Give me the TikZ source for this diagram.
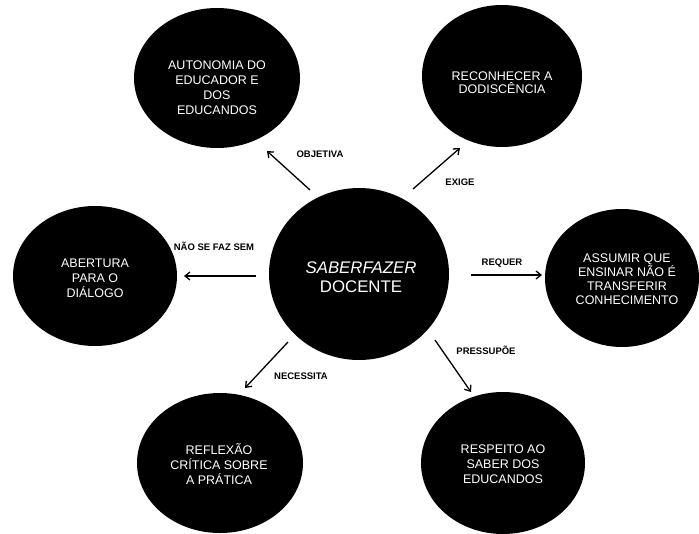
\documentclass[tikz,border=0pt]{standalone}
\usepackage{fontspec}
\setmainfont{Liberation Sans}
\usetikzlibrary{arrows.meta}
\begin{document}
\begin{tikzpicture}[x=1pt,y=-1pt,
  blobtext/.style={text=white, align=center, inner sep=0pt},
  rel/.style={font=\bfseries\fontsize{9.5}{10}\selectfont, inner sep=0pt},
  link/.style={-{Straight Barb[length=5pt,width=8pt]}, line width=1.3pt}]
\useasboundingbox (0,0) rectangle (699,533);
\fill[black] (359,274) ellipse [x radius=90, y radius=86];
\node[blobtext, font=\fontsize{16.8}{19}\selectfont] (ctext) at (361,277) {\textit{SABERFAZER}\\DOCENTE};
\fill[black] (217,78) ellipse [x radius=83, y radius=70];
\node[blobtext, font=\fontsize{12.5}{15}\selectfont] (n1) at (217,88) {AUTONOMIA DO\\EDUCADOR E\\DOS\\EDUCANDOS};
\fill[black] (502,76) ellipse [x radius=80, y radius=71];
\node[blobtext, font=\fontsize{12.5}{13}\selectfont] (n2) at (502,83) {RECONHECER A\\DODISCÊNCIA};
\fill[black] (95,276) ellipse [x radius=82, y radius=70];
\node[blobtext, font=\fontsize{12.5}{15}\selectfont] (n3) at (95,278) {ABERTURA\\PARA O\\DIÁLOGO};
\fill[black] (622,278) ellipse [x radius=77, y radius=69];
\node[blobtext, font=\fontsize{12.5}{14}\selectfont] (n4) at (627,279) {ASSUMIR QUE\\ENSINAR NÃO É\\TRANSFERIR\\CONHECIMENTO};
\fill[black] (220,463) ellipse [x radius=83, y radius=70];
\node[blobtext, font=\fontsize{12.5}{15}\selectfont] (n5) at (219,464) {REFLEXÃO\\CRÍTICA SOBRE\\A PRÁTICA};
\fill[black] (503,463) ellipse [x radius=82, y radius=71];
\node[blobtext, font=\fontsize{12.5}{15}\selectfont] (n6) at (503,464) {RESPEITO AO\\SABER DOS\\EDUCANDOS};
% arrow endpoints
\coordinate (a1s) at (310,190); \coordinate (a1e) at (267,151);
\coordinate (a2s) at (413,189); \coordinate (a2e) at (460,148);
\coordinate (a3s) at (256,276); \coordinate (a3e) at (184,276);
\coordinate (a4s) at (471,275); \coordinate (a4e) at (542,275);
\coordinate (a5s) at (288,342); \coordinate (a5e) at (245,388);
\coordinate (a6s) at (435,340); \coordinate (a6e) at (471,392);
\draw[link] (a1s) -- (a1e);
\draw[link] (a2s) -- (a2e);
\draw[link] (a3s) -- (a3e);
\draw[link] (a4s) -- (a4e);
\draw[link] (a5s) -- (a5e);
\draw[link] (a6s) -- (a6e);
\node[rel] (l1) at (320,154) {OBJETIVA};
\node[rel] (l2) at (460,182) {EXIGE};
\node[rel] (l3) at (214,246) {NÃO SE FAZ SEM};
\node[rel] (l4) at (502,263) {REQUER};
\node[rel] (l5) at (301,376) {NECESSITA};
\node[rel] (l6) at (486,350) {PRESSUPÕE};
\end{tikzpicture}
\end{document}
